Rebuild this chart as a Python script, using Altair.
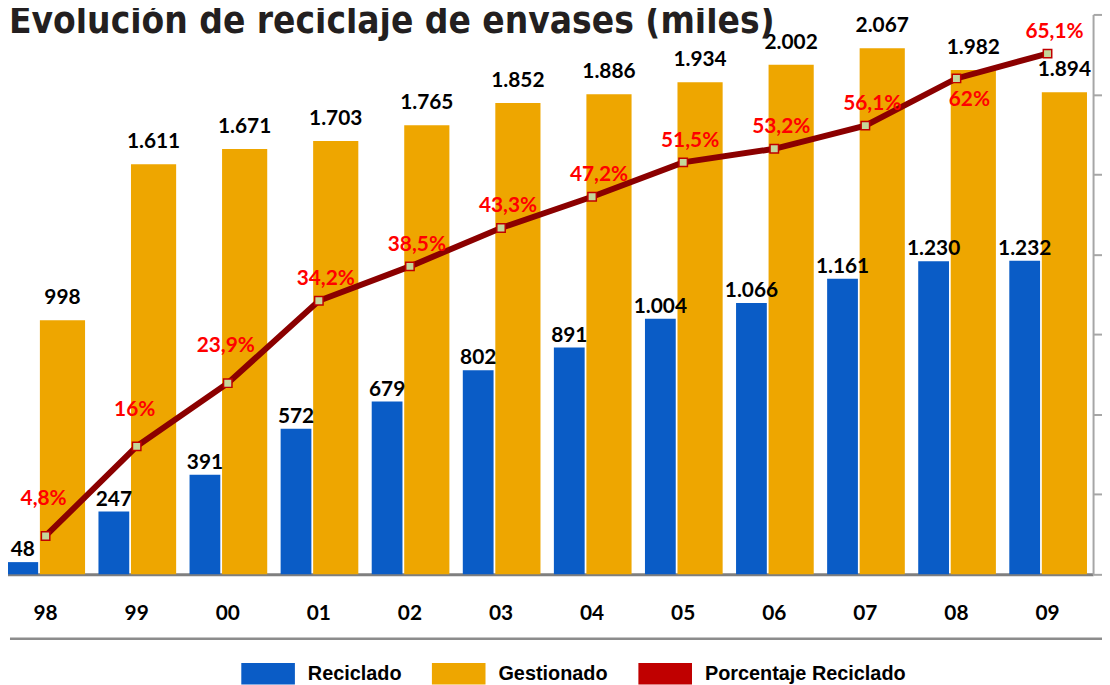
import altair as alt
import pandas as pd

years = ["98", "99", "00", "01", "02", "03", "04", "05", "06", "07", "08", "09"]
reciclado = [48, 247, 391, 572, 679, 802, 891, 1004, 1066, 1161, 1230, 1232]
gestionado = [998, 1611, 1671, 1703, 1765, 1852, 1886, 1934, 2002, 2067, 1982, 1894]
porcentaje = [4.8, 16, 23.9, 34.2, 38.5, 43.3, 47.2, 51.5, 53.2, 56.1, 62, 65.1]
series = ["Reciclado", "Gestionado", "Porcentaje Reciclado"]
colors = ["#0A5CC6", "#EEA600", "#C00000"]
title_text = "Evolución de reciclaje de envases (miles)"
pct_ticks = [0, 10, 20, 30, 40, 50, 60, 70]

df = pd.DataFrame({"year": years, "Reciclado": reciclado,
                   "Gestionado": gestionado, "pct": porcentaje})

x = alt.X("year:N", sort=years, title=None,
          scale=alt.Scale(paddingInner=0, paddingOuter=0),
          axis=alt.Axis(labelFont="Lato", labelFontSize=21, labelFontWeight="bold",
                        labelColor="#000000", labelAngle=0, labelPadding=40,
                        labelBaseline="middle", ticks=False, tickSize=0,
                        domainColor="#7F7F7F", domainWidth=3, grid=False))
yL = alt.Scale(domain=[0, 2200], nice=False, zero=True)
yR = alt.Scale(domain=[0, 70], nice=False, zero=True)

color = alt.Color("serie:N", scale=alt.Scale(domain=series, range=colors),
                  legend=alt.Legend(title=None, orient="none", legendX=243, legendY=637,
                                    direction="horizontal",
                                    symbolType="M-1,-0.4H1V0.4H-1Z", symbolSize=2916,
                                    symbolStrokeWidth=0, symbolOpacity=1,
                                    labelFont="Liberation Sans", labelFontSize=20,
                                    labelFontWeight="bold", labelColor="#000000",
                                    labelOffset=13, columnPadding=30, labelLimit=400))

base = alt.Chart(df)

orange = base.transform_calculate(serie="'Gestionado'").mark_bar(
    width=45.5, xOffset=17, opacity=1).encode(
    x=x, y=alt.Y("Gestionado:Q", scale=yL, axis=None), color=color)

blue = base.transform_calculate(serie="'Reciclado'").mark_bar(
    width=31, xOffset=-23, opacity=1).encode(
    x=x, y=alt.Y("Reciclado:Q", scale=yL, axis=None), color=color)

sep = alt.Chart(alt.Data(values=[{"s": 1}])).mark_rule(
    color="#8C8C8C", strokeWidth=2.5).encode(
    x=alt.value(10), x2=alt.value(1112), y=alt.value(629))

blue_lbl = base.transform_calculate(
    lbl="replace(format(datum.Reciclado, ','), ',', '.')").mark_text(
    font="Lato", fontSize=21, fontWeight="bold", color="#000000",
    dx=-23, dy=-6, baseline="alphabetic", align="center").encode(
    x=x, y=alt.Y("Reciclado:Q", scale=yL, axis=None), text="lbl:N")

orange_lbl = base.transform_calculate(
    lbl="replace(format(datum.Gestionado, ','), ',', '.')").mark_text(
    font="Lato", fontSize=21, fontWeight="bold", color="#000000",
    dx=17, dy=-16, baseline="alphabetic", align="center").encode(
    x=x, y=alt.Y("Gestionado:Q", scale=yL, axis=None), text="lbl:N")

line = base.mark_line(color="#8B0000", strokeWidth=6).encode(
    x=x, y=alt.Y("pct:Q", scale=yR,
                 axis=alt.Axis(orient="right", values=pct_ticks, labels=False,
                               ticks=True, tickSize=12, tickColor="#A6A6A6",
                               tickWidth=2, domainColor="#A6A6A6", domainWidth=2,
                               grid=False, title=None)))

points = base.mark_square(size=72, filled=True, fill="#C4D79B", stroke="#C00000",
                          strokeWidth=1.5, opacity=1).encode(
    x=x, y=alt.Y("pct:Q", scale=yR, axis=None))

pct_text = "replace(toString(datum.pct), '.', ',') + '%'"


def pct_layer(yrs, dx, dy):
    return base.transform_filter(
        alt.FieldOneOfPredicate(field="year", oneOf=yrs)).transform_calculate(
        lbl=pct_text).mark_text(
        font="Lato", fontSize=21, fontWeight="bold", color="#FF0000",
        dx=dx, dy=dy, baseline="middle", align="center").encode(
        x=x, y=alt.Y("pct:Q", scale=yR, axis=None), text="lbl:N")


pctA = pct_layer(["98", "99", "00"], -2, -37)
pctB = pct_layer(["01", "02", "03", "04", "05", "06", "07", "09"], 7, -22)
pctC = pct_layer(["08"], 13, 22)

chart = alt.layer(orange, blue, sep, blue_lbl, orange_lbl, line, points,
                  pctA, pctB, pctC).resolve_scale(y="independent").properties(
    width=1101, height=564,
    padding={"left": -8, "top": 4, "right": 9, "bottom": 109},
    autosize=alt.AutoSizeParams(type="none"),
    title=alt.TitleParams(text=title_text, anchor="start", frame="group",
                          font="DejaVu Sans Condensed, Liberation Sans, sans-serif",
                          fontSize=37, fontWeight="bold", color="#231F20", offset=0,
                          dx=9, dy=28)
).configure_view(stroke=None)

chart.save("out.html", embed_options={"renderer": "svg", "actions": False})
